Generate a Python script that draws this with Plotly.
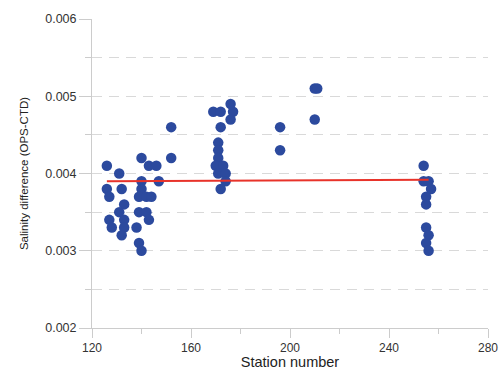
import plotly.graph_objects as go

# Station numbers and salinity differences (OPS-CTD)
station = [126, 126, 127, 127, 128, 131, 132, 133, 131, 133, 133, 132,
           139, 138, 140, 140, 140, 139, 142, 144, 142, 143, 139, 140,
           143, 146, 147, 152, 152,
           169, 172, 177, 176, 176, 172, 171, 171, 171, 170, 173, 171, 174, 174, 172,
           196, 196, 210, 210, 211,
           254, 254, 256, 257, 255, 255, 255, 256, 255, 256]
sal_diff = [0.0041, 0.0038, 0.0037, 0.0034, 0.0033, 0.0040, 0.0038, 0.0036, 0.0035, 0.0034, 0.0033, 0.0032,
            0.0035, 0.0033, 0.0042, 0.0039, 0.0038, 0.0037, 0.0037, 0.0037, 0.0035, 0.0034, 0.0031, 0.0030,
            0.0041, 0.0041, 0.0039, 0.0042, 0.0046,
            0.0048, 0.0048, 0.0048, 0.0049, 0.0047, 0.0046, 0.0044, 0.0043, 0.0042, 0.0041, 0.0041, 0.0040, 0.0040, 0.0039, 0.0038,
            0.0046, 0.0043, 0.0047, 0.0051, 0.0051,
            0.0041, 0.0039, 0.0039, 0.0038, 0.0037, 0.0036, 0.0033, 0.0032, 0.0031, 0.0030]

# Mean line end points
mean_x = [126, 256]
mean_y = [0.00390, 0.00392]

x_ticks = [120, 160, 200, 240, 280]
y_ticks = [0.002, 0.003, 0.004, 0.005, 0.006]

fig = go.Figure()
fig.add_trace(go.Scatter(
    x=station, y=sal_diff, mode="markers",
    marker=dict(color="#2c4a9e", size=10.5, line=dict(width=0)),
    showlegend=False, hoverinfo="x+y"))
fig.add_trace(go.Scatter(
    x=mean_x, y=mean_y, mode="lines",
    line=dict(color="#e8332a", width=2),
    showlegend=False))

grid_col = "#d9d9d9"
axis_col = "#cccccc"
font_fam = "Liberation Sans, Arial, sans-serif"

fig.update_layout(
    width=500, height=370,
    margin=dict(l=92, r=12, t=19, b=42),
    paper_bgcolor="white", plot_bgcolor="white",
    font=dict(family=font_fam, color="#333333"),
    xaxis=dict(
        range=[120, 280], tickvals=x_ticks, ticktext=[str(v) for v in x_ticks],
        automargin=False,
        showgrid=False, zeroline=False,
        showline=True, linecolor=axis_col, linewidth=1,
        ticks="outside", ticklen=9, tickcolor=axis_col, tickwidth=1,
        tickfont=dict(size=12, color="#333333"),
        minor=dict(dtick=20, tick0=120, ticks="outside", ticklen=5, tickcolor=axis_col, showgrid=False),
        title=dict(text="Station number", font=dict(size=14.5, color="#222222"), standoff=2),
    ),
    yaxis=dict(
        range=[0.002, 0.006], tickvals=y_ticks, ticktext=["%.3f" % v for v in y_ticks],
        automargin=False,
        showgrid=True, gridcolor=grid_col, gridwidth=1, griddash="10px,7px",
        zeroline=False,
        showline=True, linecolor=axis_col, linewidth=1,
        ticks="outside", ticklen=12, tickcolor=axis_col, tickwidth=1,
        tickfont=dict(size=12.5, color="#333333"),
        minor=dict(dtick=0.0005, tick0=0.002, ticks="outside", ticklen=6, tickcolor=axis_col,
                   showgrid=True, gridcolor=grid_col, griddash="10px,7px"),
        title=dict(text="Salinity difference (OPS-CTD)",
                   font=dict(size=11.5, color="#222222", family="Liberation Sans, Arial"),
                   standoff=14),
    ),
)

fig.write_html("out.html",
               config={"displayModeBar": False},
               post_script="document.body.style.margin='0';document.body.style.overflow='hidden';")
